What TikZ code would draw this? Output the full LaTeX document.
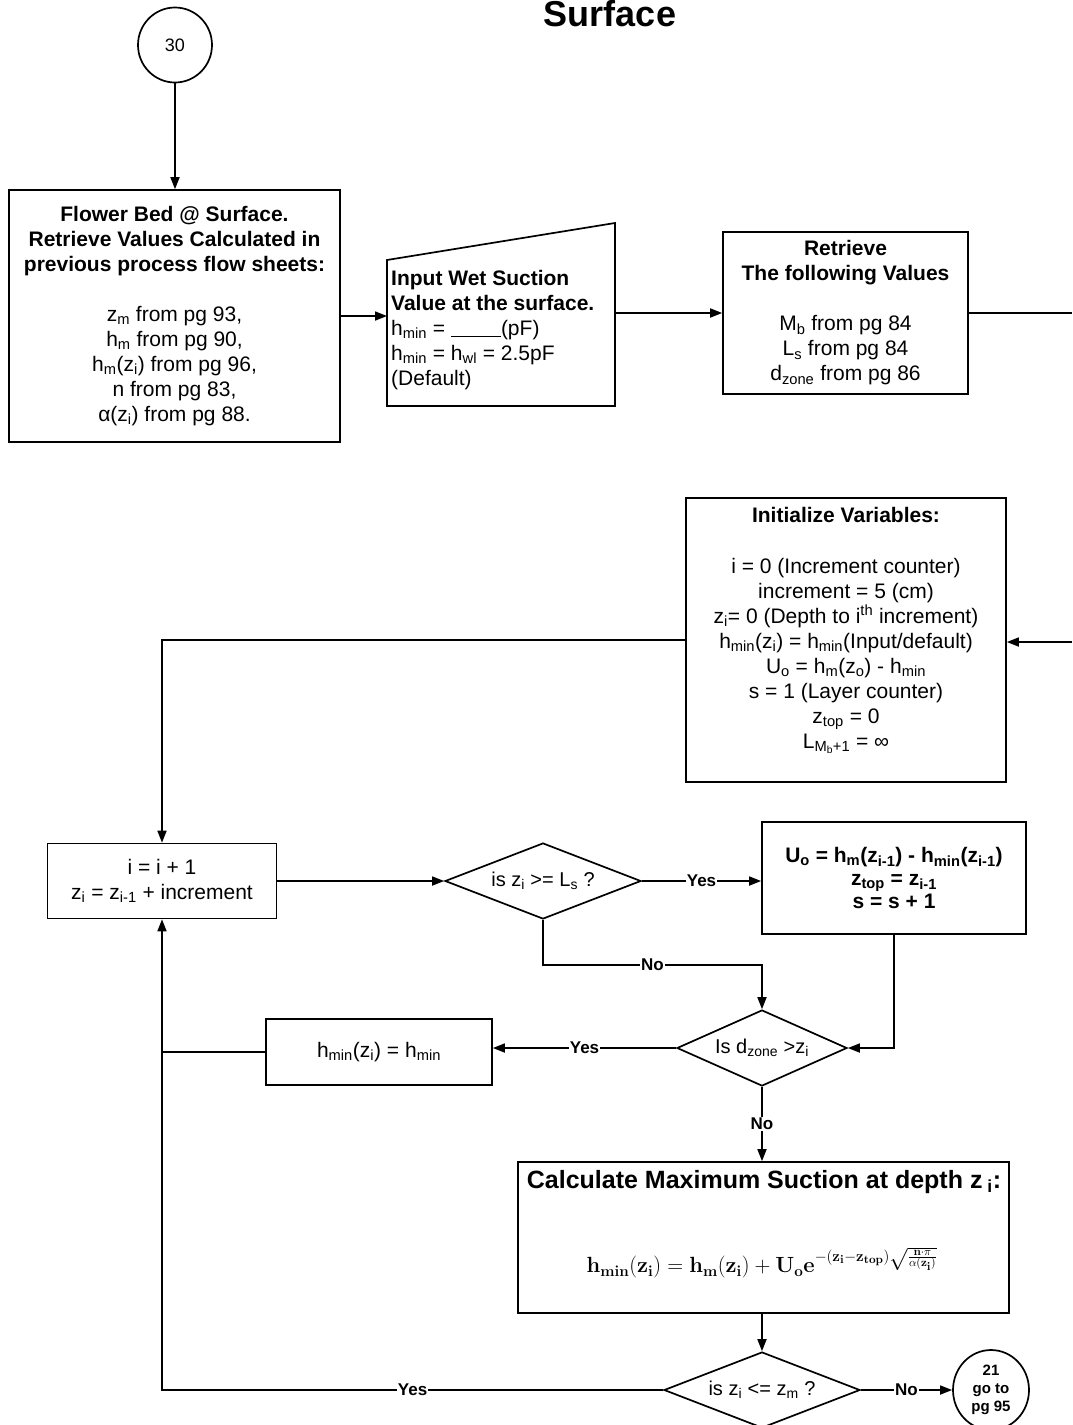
\documentclass[tikz,border=0pt]{standalone}
\usepackage[no-math]{fontspec}
\setmainfont{Liberation Sans}
\usetikzlibrary{shapes.geometric,arrows.meta}
\newcommand\sbs[1]{\textsubscript{#1}}
\newcommand\sps[1]{\textsuperscript{#1}}
\newcommand\bb[1]{\mathbf{#1}}
\newsavebox\formulabox
\begin{document}
\sbox\formulabox{\fontsize{22}{26}\selectfont$\bb{h}_{\bb{min}}(\bb{z}_{\bb{i}})=\bb{h}_{\bb{m}}(\bb{z}_{\bb{i}})+\bb{U}_{\bb{o}}\bb{e}^{-(\bb{z}_{\bb{i}}-\bb{z}_{\bb{top}})\sqrt{\frac{\bb{n}\cdot\pi}{\alpha(\bb{z}_{\bb{i}})}}}$}%
\begin{tikzpicture}[x=1pt,y=-1pt,
  every node/.style={font=\fontsize{21}{25}\selectfont},
  line/.style={line width=1.7pt},
  arr/.style={line width=1.7pt,-{Triangle[length=12pt,width=9pt]}},
  box/.style={draw,line width=1.7pt,rectangle,inner sep=0pt,align=center},
  dec/.style={draw,line width=1.7pt,diamond,aspect=2.5,inner sep=0pt,align=center,font=\fontsize{20}{24}\selectfont},
  lab/.style={fill=white,inner sep=1pt,font=\fontsize{17}{20}\selectfont\bfseries},
  conn/.style={draw,line width=1.7pt,ellipse,inner sep=0pt,align=center}]
\useasboundingbox (0,0) rectangle (1072,1425);
\clip (0,0) rectangle (1072,1425);
\fill[white] (0,0) rectangle (1072,1425);

% title
\node[font=\fontsize{36}{40}\selectfont\bfseries] (title) at (610,14) {Surface};

% start connector
\node[conn, minimum width=74pt, minimum height=75pt, font=\fontsize{18}{20}\selectfont] (c30) at (175,45) {30};

% box 1
\node[box, minimum width=331pt, minimum height=252pt] (b1) at (174.5,316) {%
\textbf{Flower Bed @ Surface.}\\
\textbf{Retrieve Values Calculated in}\\
\textbf{previous process flow sheets:}\\[25pt]
z\sbs{m} from pg 93,\\
h\sbs{m} from pg 90,\\
h\sbs{m}(z\sbs{i}) from pg 96,\\
n from pg 83,\\
α(z\sbs{i}) from pg 88.};

% manual input trapezoid
\draw[line] (387,260) -- (615,223) -- (615,406) -- (387,406) -- cycle;
\coordinate (tpL) at (387,316);
\coordinate (tpR) at (615,313);
\node[anchor=north west, align=left, inner sep=0pt] (inp) at (391,270) {%
\textbf{Input Wet Suction}\\
\textbf{Value at the surface.}\\
h\sbs{min} = \rule[-2pt]{50pt}{1.2pt}(pF)\\
h\sbs{min} = h\sbs{wl} = 2.5pF\\
(Default)};

% retrieve box
\node[box, minimum width=245pt, minimum height=162pt] (ret) at (845.5,313) {%
\textbf{Retrieve}\\
\textbf{The following Values}\\[25pt]
M\sbs{b} from pg 84\\
L\sbs{s} from pg 84\\
d\sbs{zone} from pg 86};
\coordinate (offR) at (1072,313);
\coordinate (offR2) at (1072,642);

% initialize
\node[box, minimum width=320pt, minimum height=284pt] (init) at (846,640) {%
\textbf{Initialize Variables:}\\[26pt]
i = 0 (Increment counter)\\
increment = 5 (cm)\\
z\sbs{i}= 0 (Depth to i\sps{th} increment)\\
h\sbs{min}(z\sbs{i}) = h\sbs{min}(Input/default)\\
U\sbs{o} = h\sbs{m}(z\sbs{o}) - h\sbs{min}\\
s = 1 (Layer counter)\\
z\sbs{top} = 0\\
L\sbs{M\sbs{b}+1} = ∞\\[0pt]};

% increment box
\node[box, minimum width=229pt, minimum height=75pt] (bi) at (162,881) {%
i = i + 1\\
z\sbs{i} = z\sbs{i-1} + increment};

% decision 1
\node[dec, minimum width=196pt, minimum height=76pt] (d1) at (543,881) {is z\sbs{i} >= L\sbs{s} ?};

% Uo box
\node[box, minimum width=264pt, minimum height=112pt, font=\fontsize{21}{23}\selectfont\bfseries] (uo) at (894,878) {%
U\sbs{o} = h\sbs{m}(z\sbs{i-1}) - h\sbs{min}(z\sbs{i-1})\\
z\sbs{top} = z\sbs{i-1}\\
s = s + 1};

% decision 2
\node[dec, minimum width=170pt, minimum height=76pt] (d2) at (762,1048) {Is d\sbs{zone} >z\sbs{i}};

% hmin box
\node[box, minimum width=226pt, minimum height=66pt] (hm) at (379,1052) {h\sbs{min}(z\sbs{i}) = h\sbs{min}};

% calc box
\node[box, minimum width=491pt, minimum height=151pt] (calc) at (763.5,1237.5) {};
\node[font=\fontsize{25}{28}\selectfont\bfseries] (calcT) at (764,1182) {Calculate Maximum Suction at depth z\sbs{ i}:};
\node[inner sep=0pt, scale=1.06] (calcF) at (762,1263) {\usebox\formulabox};

% decision 3
\node[dec, minimum width=196pt, minimum height=76pt] (d3) at (762,1390) {is z\sbs{i} <= z\sbs{m} ?};

% end connector
\node[conn, minimum width=76pt, minimum height=80pt, font=\fontsize{15}{18}\selectfont\bfseries] (c21) at (991,1390) {21\\go to\\pg 95};

% connectors
\coordinate (nojoin) at (762,965);
\draw[arr] (c30.south) -- (c30.south |- b1.north);
\draw[arr] (b1.east) -- (tpL);
\draw[arr] (tpR) -- (ret.west);
\draw[line] (ret.east) -- (offR);
\draw[arr] (offR2) -- (offR2 -| init.east);
\draw[arr] (init.west) -| (bi.north);
\draw[arr] (bi.east) -- (d1.west);
\draw[arr] (d1.east) -- (d1.east -| uo.west) node[lab, pos=0.5] (yes1) {Yes};
\draw[arr] (d1.south) |- (nojoin) node[lab, pos=0.75] (no1) {No} -- (d2.north);
\draw[arr] (uo.south) |- (d2.east);
\draw[arr] (d2.west) -- (d2.west -| hm.east) node[lab, pos=0.5] (yes2) {Yes};
\draw[line] (hm.west) -- (hm.west -| bi.south);
\draw[arr] (d2.south) -- (d2.south |- calc.north) node[lab, pos=0.5] (no2) {No};
\draw[arr] (d3.north |- calc.south) -- (d3.north);
\draw[arr] (d3.west) -| (bi.south) node[lab, pos=0.25] (yes3) {Yes};
\draw[arr] (d3.east) -- (c21.west) node[lab, pos=0.5] (no3) {No};
\end{tikzpicture}
\end{document}
